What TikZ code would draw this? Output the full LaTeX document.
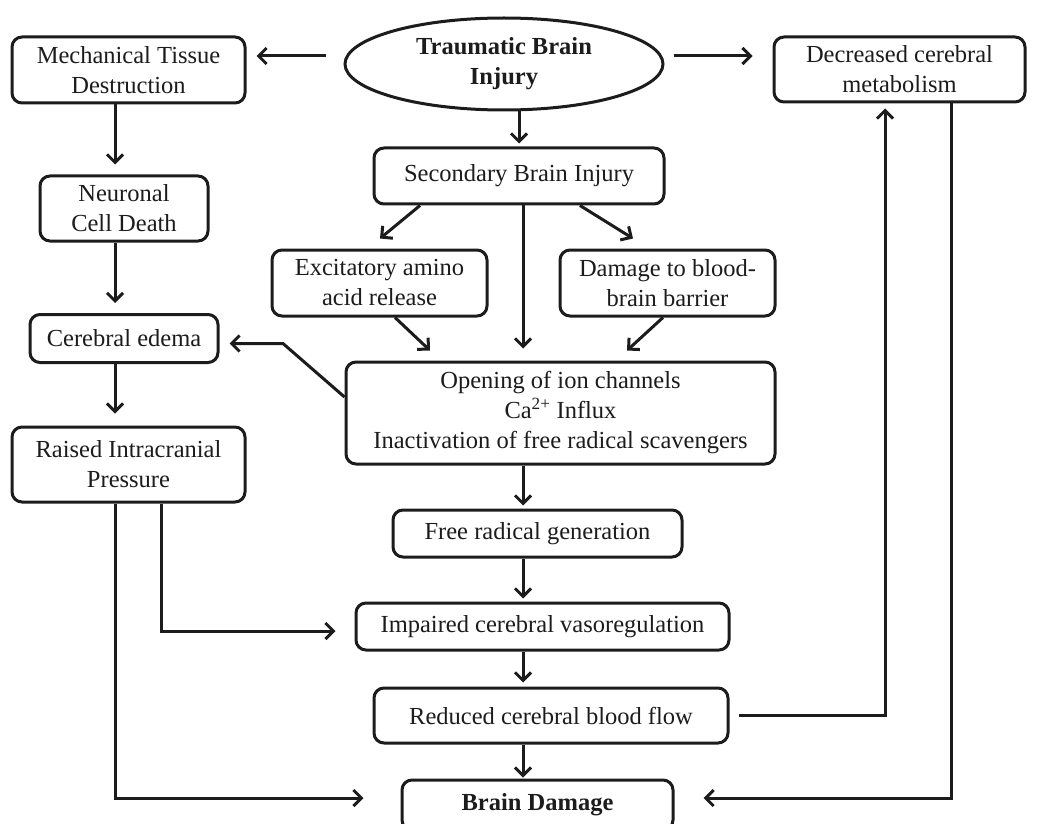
\documentclass[tikz,border=0pt]{standalone}
\usepackage{fontspec}
\setmainfont{Liberation Serif}
\usetikzlibrary{arrows.meta,calc,shapes.geometric}
\definecolor{ink}{HTML}{1C1C1C}
\begin{document}
\begin{tikzpicture}[x=1pt,y=-1pt,
  box/.style={draw=ink,line width=3pt,rounded corners=10pt,inner sep=0pt,align=center,text=ink,
    font=\fontsize{24.5}{30}\selectfont},
  oval/.style={draw=ink,line width=3pt,ellipse,inner sep=0pt,align=center,text=ink,
    font=\fontsize{24.5}{30}\selectfont\bfseries},
  arr/.style={draw=ink,line width=3pt,-{Straight Barb[length=8pt,width=16pt]}}
]
\useasboundingbox (0,0) rectangle (1037,824);
\clip (0,0) rectangle (1037,824);
\fill[white] (0,0) rectangle (1037,824);

\node[oval,minimum width=318pt,minimum height=92pt] (tbi) at (504,64) {Traumatic Brain\\Injury};
\node[box,minimum width=233pt,minimum height=66pt] (mech) at (128.5,70) {Mechanical Tissue\\Destruction};
\node[box,minimum width=251pt,minimum height=65pt] (dec) at (899.5,69.5) {Decreased cerebral\\metabolism};
\node[box,minimum width=290pt,minimum height=56pt] (sec) at (519,176) {Secondary Brain Injury};
\node[box,minimum width=168pt,minimum height=65pt] (neur) at (124,208.5) {Neuronal\\Cell Death};
\node[box,minimum width=215pt,minimum height=66pt] (exc) at (379.5,283) {Excitatory amino\\acid release};
\node[box,minimum width=215pt,minimum height=66pt] (dmg) at (667.5,283) {Damage to blood-\\brain barrier};
\node[box,minimum width=429pt,minimum height=102pt] (open) at (560.5,413) {Opening of ion channels\\Ca\textsuperscript{2+} Influx\\Inactivation of free radical scavengers};
\node[box,minimum width=188pt,minimum height=48pt] (edema) at (124,338.5) {Cerebral edema};
\node[box,minimum width=233pt,minimum height=75pt] (raised) at (128.5,464.5) {Raised Intracranial\\Pressure};
\node[box,minimum width=289pt,minimum height=47pt] (free) at (537.5,533.5) {Free radical generation};
\node[box,minimum width=373pt,minimum height=47pt] (imp) at (542.5,626.5) {Impaired cerebral vasoregulation};
\node[box,minimum width=354pt,minimum height=55pt] (red) at (551,715.5) {Reduced cerebral blood flow};
\node[box,minimum width=271pt,minimum height=50pt,font=\fontsize{24.5}{30}\selectfont\bfseries] (bd) at (537.5,805) {Brain Damage};

\coordinate (lx) at (115,0);
\coordinate (sx) at (523,0);

% from TBI
\draw[arr] ($(tbi.west)+(-18,-8)$) -- ($(mech.east)+(10,-14)$);
\draw[arr] ($(tbi.east)+(9,-8)$) -- ($(dec.west)+(-20,-13.5)$);
\draw[arr,shorten >=3pt] (sec.north |- tbi.south) -- (sec.north);

% left column
\draw[arr,shorten >=10pt] (lx |- mech.south) -- (lx |- neur.north);
\draw[arr,shorten >=10pt] (lx |- neur.south) -- (lx |- edema.north);
\draw[arr,shorten >=12pt] (lx |- edema.south) -- (lx |- raised.north);

% secondary injury branches
\draw[arr] ($(sec.south)+(-99,0)$) -- ($(exc.north)+(0.5,-10)$);
\draw[arr] ($(sec.south)+(61,0)$) -- ($(dmg.north)+(-34.5,-10)$);
\draw[arr,shorten >=12pt] (sx |- sec.south) -- (sx |- open.north);
\draw[arr] ($(exc.south)+(15.5,0)$) -- ($(open.north)+(-130.5,-10)$);
\draw[arr] ($(dmg.south)+(-4.5,0)$) -- ($(open.north)+(66.5,-10)$);

% opening -> edema
\draw[arr] ($(open.west)+(0,-16)$) -- (283,343.5) -- ($(edema.east)+(10,5)$);

% central spine
\draw[arr,shorten >=3pt] (sx |- open.south) -- (sx |- free.north);
\draw[arr,shorten >=3pt] (sx |- free.south) -- (sx |- imp.north);
\draw[arr,shorten >=4pt] (sx |- imp.south) -- (sx |- red.north);
\draw[arr,shorten >=1pt] (sx |- red.south) -- (sx |- bd.north);

% raised ICP
\draw[arr] ($(raised.south)+(32.5,0)$) |- ($(imp.west)+(-19,4.5)$);
\draw[arr] (lx |- raised.south) |- ($(bd.west)+(-37,-7)$);

% feedback right side
\draw[arr] ($(red.east)+(9,0)$) -| ($(dec.south)+(-14.5,5)$);
\draw[arr] ($(dec.south)+(51.5,0)$) |- ($(bd.east)+(29,-7)$);
\end{tikzpicture}
\end{document}
